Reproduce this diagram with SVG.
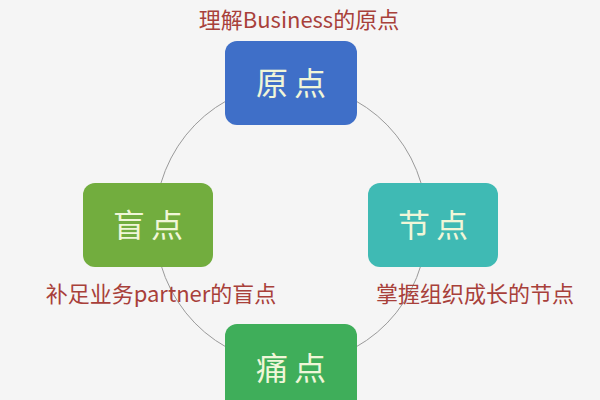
<svg xmlns="http://www.w3.org/2000/svg" width="600" height="400" viewBox="0 0 600 400">
<style>
.n{stroke:none}
.t{font-family:"Noto Sans CJK SC","Noto Sans",sans-serif;font-size:32px;fill:#f0f6d8;text-anchor:middle;letter-spacing:6px}
.l{font-family:"Noto Sans CJK SC","Noto Sans",sans-serif;font-size:22px;fill:#a8403a;text-anchor:middle}
</style>
<rect width="600" height="400" fill="#f5f5f5"/>
<g id="connectors"><ellipse cx="291" cy="224" rx="136" ry="140" fill="none" stroke="#9a9a9a" stroke-width="1"/></g>
<g id="n1"><rect x="225" y="41" width="132" height="84" rx="12" fill="#3f6fc8"/><text class="t" x="294" y="95">原点</text></g>
<g id="n2"><rect x="368" y="183" width="130" height="84" rx="12" fill="#3fbab4"/><text class="t" x="436" y="237">节点</text></g>
<g id="n3"><rect x="83" y="183" width="130" height="84" rx="12" fill="#72ad3e"/><text class="t" x="151" y="237">盲点</text></g>
<g id="n4"><rect x="225" y="324" width="132" height="90" rx="12" fill="#3fae5a"/><text class="t" x="294" y="380">痛点</text></g>
<text class="l" x="299" y="28">理解Business的原点</text>
<text class="l" x="161" y="302">补足业务partner的盲点</text>
<text class="l" x="475" y="302">掌握组织成长的节点</text>
</svg>
